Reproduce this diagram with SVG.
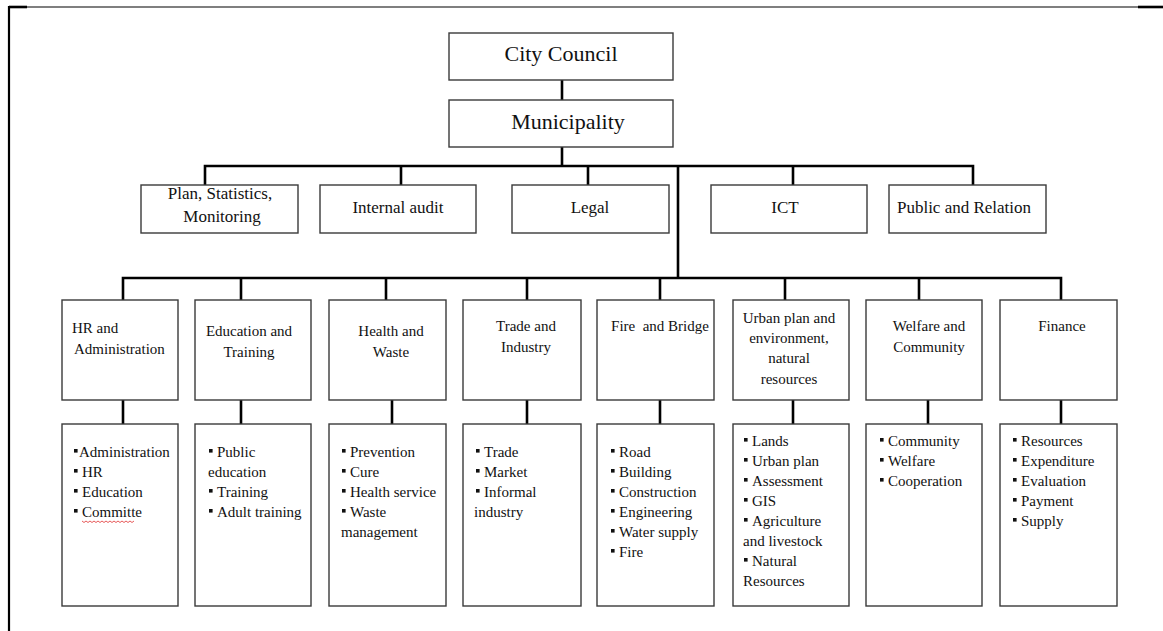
<svg xmlns="http://www.w3.org/2000/svg" width="1163" height="631" viewBox="0 0 1163 631">
  <style>
    .box { fill: #ffffff; stroke: #3a3a3a; stroke-width: 1.4; }
    .wire { fill: none; stroke: #000000; stroke-width: 2.6; }
    .frame { fill: none; stroke: #000000; }
    text { font-family: "Liberation Serif", "Times New Roman", serif; fill: #111111; }
    .big { font-size: 22px; text-anchor: middle; }
    .mid { font-size: 17px; text-anchor: middle; }
    .head { font-size: 15px; }
    .c { text-anchor: middle; }
    .item { font-size: 15px; }
    .bul { fill: #111111; }
  </style>
  <defs>
    <rect id="b" class="bul" x="0" y="-8" width="3.6" height="3.6"/>
  </defs>

  <!-- page frame -->
  <g id="frame">
    <line class="frame" x1="9" y1="7" x2="1163" y2="7" stroke-width="1.2"/>
    <line class="frame" x1="9" y1="7" x2="27" y2="7" stroke-width="2.6"/>
    <line class="frame" x1="1138" y1="7" x2="1163" y2="7" stroke-width="2.6"/>
    <line class="frame" x1="9" y1="6" x2="9" y2="631" stroke-width="2.2"/>
  </g>

  <!-- connectors -->
  <g id="connectors">
    <line class="wire" x1="562" y1="80" x2="562" y2="100"/>
    <line class="wire" x1="562" y1="147" x2="562" y2="166"/>
    <path class="wire" d="M205 185 V166 H973 V185"/>
    <line class="wire" x1="401" y1="166" x2="401" y2="185"/>
    <line class="wire" x1="588" y1="166" x2="588" y2="185"/>
    <line class="wire" x1="793" y1="166" x2="793" y2="185"/>
    <line class="wire" x1="678" y1="166" x2="678" y2="278"/>
    <path class="wire" d="M123 300 V278 H1061 V300"/>
    <line class="wire" x1="241" y1="278" x2="241" y2="300"/>
    <line class="wire" x1="386" y1="278" x2="386" y2="300"/>
    <line class="wire" x1="527" y1="278" x2="527" y2="300"/>
    <line class="wire" x1="660" y1="278" x2="660" y2="300"/>
    <line class="wire" x1="785" y1="278" x2="785" y2="300"/>
    <line class="wire" x1="919" y1="278" x2="919" y2="300"/>
    <line class="wire" x1="123" y1="400" x2="123" y2="424"/>
    <line class="wire" x1="241" y1="400" x2="241" y2="424"/>
    <line class="wire" x1="392" y1="400" x2="392" y2="424"/>
    <line class="wire" x1="527" y1="400" x2="527" y2="424"/>
    <line class="wire" x1="660" y1="400" x2="660" y2="424"/>
    <line class="wire" x1="793" y1="400" x2="793" y2="424"/>
    <line class="wire" x1="928" y1="400" x2="928" y2="424"/>
    <line class="wire" x1="1061" y1="400" x2="1061" y2="424"/>
  </g>

  <!-- top levels -->
  <g id="city-council">
    <rect class="box" x="449" y="33" width="224" height="47"/>
    <text class="big" x="561" y="61">City Council</text>
  </g>
  <g id="municipality">
    <rect class="box" x="449" y="100" width="224" height="47"/>
    <text class="big" x="568" y="129">Municipality</text>
  </g>

  <!-- staff units -->
  <g id="plan">
    <rect class="box" x="141" y="185" width="157" height="48"/>
    <text class="mid" x="220" y="199">Plan, Statistics,</text>
    <text class="mid" x="222" y="222">Monitoring</text>
  </g>
  <g id="audit">
    <rect class="box" x="320" y="185" width="156" height="48"/>
    <text class="mid" x="398" y="213">Internal audit</text>
  </g>
  <g id="legal">
    <rect class="box" x="512" y="185" width="157" height="48"/>
    <text class="mid" x="590" y="213">Legal</text>
  </g>
  <g id="ict">
    <rect class="box" x="711" y="185" width="156" height="48"/>
    <text class="mid" x="785" y="213">ICT</text>
  </g>
  <g id="public">
    <rect class="box" x="889" y="185" width="157" height="48"/>
    <text class="mid" x="964" y="213">Public and Relation</text>
  </g>

  <!-- departments -->
  <g id="hr">
    <rect class="box" x="62" y="300" width="116" height="100"/>
    <text class="head" x="72" y="333">HR and</text>
    <text class="head" x="74" y="354">Administration</text>
  </g>
  <g id="education">
    <rect class="box" x="195" y="300" width="116" height="100"/>
    <text class="head c" x="249" y="336">Education and</text>
    <text class="head c" x="249" y="357">Training</text>
  </g>
  <g id="health">
    <rect class="box" x="329" y="300" width="117" height="100"/>
    <text class="head c" x="391" y="336">Health and</text>
    <text class="head c" x="391" y="357">Waste</text>
  </g>
  <g id="trade">
    <rect class="box" x="463" y="300" width="118" height="100"/>
    <text class="head c" x="526" y="331">Trade and</text>
    <text class="head c" x="526" y="352">Industry</text>
  </g>
  <g id="fire">
    <rect class="box" x="597" y="300" width="117" height="100"/>
    <text class="head c" x="660" y="331" xml:space="preserve">Fire  and Bridge</text>
  </g>
  <g id="urban">
    <rect class="box" x="733" y="300" width="116" height="100"/>
    <text class="head c" x="789" y="323">Urban plan and</text>
    <text class="head c" x="789" y="343">environment,</text>
    <text class="head c" x="789" y="363">natural</text>
    <text class="head c" x="789" y="384">resources</text>
  </g>
  <g id="welfare">
    <rect class="box" x="866" y="300" width="116" height="100"/>
    <text class="head c" x="929" y="331">Welfare and</text>
    <text class="head c" x="929" y="352">Community</text>
  </g>
  <g id="finance">
    <rect class="box" x="1000" y="300" width="117" height="100"/>
    <text class="head c" x="1062" y="331">Finance</text>
  </g>

  <!-- duty lists -->
  <g id="hr-list">
    <rect class="box" x="62" y="424" width="116" height="182"/>
    <use href="#b" x="74" y="457"/><text class="item" x="79" y="457">Administration</text>
    <use href="#b" x="74" y="477"/><text class="item" x="82" y="477">HR</text>
    <use href="#b" x="74" y="497"/><text class="item" x="82" y="497">Education</text>
    <use href="#b" x="74" y="517"/><text class="item" x="82" y="517">Committe</text>
    <path d="M82 521 l2 1.5 l2 -1.5 l2 1.5 l2 -1.5 l2 1.5 l2 -1.5 l2 1.5 l2 -1.5 l2 1.5 l2 -1.5 l2 1.5 l2 -1.5 l2 1.5 l2 -1.5 l2 1.5 l2 -1.5 l2 1.5 l2 -1.5 l2 1.5 l2 -1.5 l2 1.5 l2 -1.5 l2 1.5 l2 -1.5 l2 1.5 l2 -1.5" fill="none" stroke="#e03030" stroke-width="0.8"/>
  </g>
  <g id="education-list">
    <rect class="box" x="195" y="424" width="116" height="182"/>
    <use href="#b" x="209" y="457"/><text class="item" x="217" y="457">Public</text>
    <text class="item" x="208" y="477">education</text>
    <use href="#b" x="209" y="497"/><text class="item" x="217" y="497">Training</text>
    <use href="#b" x="209" y="517"/><text class="item" x="217" y="517">Adult training</text>
  </g>
  <g id="health-list">
    <rect class="box" x="329" y="424" width="117" height="182"/>
    <use href="#b" x="342" y="457"/><text class="item" x="350" y="457">Prevention</text>
    <use href="#b" x="342" y="477"/><text class="item" x="350" y="477">Cure</text>
    <use href="#b" x="342" y="497"/><text class="item" x="350" y="497">Health service</text>
    <use href="#b" x="342" y="517"/><text class="item" x="350" y="517">Waste</text>
    <text class="item" x="341" y="537">management</text>
  </g>
  <g id="trade-list">
    <rect class="box" x="463" y="424" width="118" height="182"/>
    <use href="#b" x="476" y="457"/><text class="item" x="484" y="457">Trade</text>
    <use href="#b" x="476" y="477"/><text class="item" x="484" y="477">Market</text>
    <use href="#b" x="476" y="497"/><text class="item" x="484" y="497">Informal</text>
    <text class="item" x="474" y="517">industry</text>
  </g>
  <g id="fire-list">
    <rect class="box" x="597" y="424" width="117" height="182"/>
    <use href="#b" x="611" y="457"/><text class="item" x="619" y="457">Road</text>
    <use href="#b" x="611" y="477"/><text class="item" x="619" y="477">Building</text>
    <use href="#b" x="611" y="497"/><text class="item" x="619" y="497">Construction</text>
    <use href="#b" x="611" y="517"/><text class="item" x="619" y="517">Engineering</text>
    <use href="#b" x="611" y="537"/><text class="item" x="619" y="537">Water supply</text>
    <use href="#b" x="611" y="557"/><text class="item" x="619" y="557">Fire</text>
  </g>
  <g id="urban-list">
    <rect class="box" x="733" y="424" width="116" height="182"/>
    <use href="#b" x="744" y="446"/><text class="item" x="752" y="446">Lands</text>
    <use href="#b" x="744" y="466"/><text class="item" x="752" y="466">Urban plan</text>
    <use href="#b" x="744" y="486"/><text class="item" x="752" y="486">Assessment</text>
    <use href="#b" x="744" y="506"/><text class="item" x="752" y="506">GIS</text>
    <use href="#b" x="744" y="526"/><text class="item" x="752" y="526">Agriculture</text>
    <text class="item" x="743" y="546">and livestock</text>
    <use href="#b" x="744" y="566"/><text class="item" x="752" y="566">Natural</text>
    <text class="item" x="743" y="586">Resources</text>
  </g>
  <g id="welfare-list">
    <rect class="box" x="866" y="424" width="116" height="182"/>
    <use href="#b" x="880" y="446"/><text class="item" x="888" y="446">Community</text>
    <use href="#b" x="880" y="466"/><text class="item" x="888" y="466">Welfare</text>
    <use href="#b" x="880" y="486"/><text class="item" x="888" y="486">Cooperation</text>
  </g>
  <g id="finance-list">
    <rect class="box" x="1000" y="424" width="117" height="182"/>
    <use href="#b" x="1013" y="446"/><text class="item" x="1021" y="446">Resources</text>
    <use href="#b" x="1013" y="466"/><text class="item" x="1021" y="466">Expenditure</text>
    <use href="#b" x="1013" y="486"/><text class="item" x="1021" y="486">Evaluation</text>
    <use href="#b" x="1013" y="506"/><text class="item" x="1021" y="506">Payment</text>
    <use href="#b" x="1013" y="526"/><text class="item" x="1021" y="526">Supply</text>
  </g>
</svg>
